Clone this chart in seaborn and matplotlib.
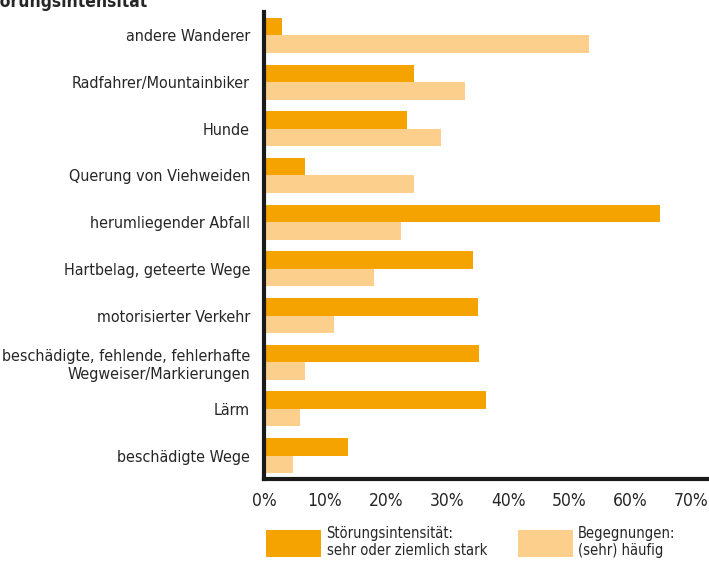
import matplotlib
matplotlib.use("Agg")
import matplotlib.pyplot as plt
from matplotlib import font_manager
from matplotlib.patches import Patch
import seaborn as sns
import pandas as pd

categories = [
    "andere Wanderer",
    "Radfahrer/Mountainbiker",
    "Hunde",
    "Querung von Viehweiden",
    "herumliegender Abfall",
    "Hartbelag, geteerte Wege",
    "motorisierter Verkehr",
    "beschädigte, fehlende, fehlerhafte\nWegweiser/Markierungen",
    "Lärm",
    "beschädigte Wege",
]
stoerung = [2.9, 24.6, 23.4, 6.8, 64.9, 34.2, 35.1, 35.2, 36.4, 13.8]
begegnung = [53.3, 33.0, 29.0, 24.6, 22.5, 18.1, 11.4, 6.8, 5.9, 4.8]
series_names = ["Störungsintensität:\nsehr oder ziemlich stark", "Begegnungen:\n(sehr) häufig"]
xticks = [0, 10, 20, 30, 40, 50, 60, 70]
xtick_labels = ["0%", "10%", "20%", "30%", "40%", "50%", "60%", "70%"]
title = "Störungsintensität"

colors = ["#F5A300", "#FCD08C"]

names = {f.name for f in font_manager.fontManager.ttflist}
if "Liberation Sans Narrow" in names:
    fam = "Liberation Sans Narrow"
    stretch = "normal"
else:
    fam = "DejaVu Sans"
    stretch = "condensed"

df = pd.DataFrame({
    "Kategorie": categories * 2,
    "Wert": stoerung + begegnung,
    "Serie": [series_names[0]] * len(categories) + [series_names[1]] * len(categories),
})

sns.set_style("white")
plt.rcParams["font.family"] = [fam, "DejaVu Sans"]

fig = plt.figure(figsize=(7.09, 5.66), dpi=100)
ax = fig.add_axes([264 / 709, 1 - 479 / 566, (707 - 264) / 709, (479 - 12) / 566])

sns.barplot(data=df, y="Kategorie", x="Wert", hue="Serie", orient="h",
            palette=colors, width=0.75, ax=ax, legend=False, saturation=1,
            linewidth=0, edgecolor="none")

ax.set_xlim(0, 72.6)
ax.set_ylim(9.5, -0.5)
ax.set_xticks(xticks)
ax.set_xticklabels(xtick_labels, fontsize=12.5, fontstretch=stretch)
ax.set_yticks(range(len(categories)))
ax.set_yticklabels(categories, fontsize=11.5, fontstretch=stretch, linespacing=1.25)
ax.tick_params(axis="both", length=0)
ax.tick_params(axis="y", pad=10)
ax.tick_params(axis="x", pad=9)
ax.set_xlabel("")
ax.set_ylabel("")
for s in ["top", "right"]:
    ax.spines[s].set_visible(False)
for s in ["left", "bottom"]:
    ax.spines[s].set_color("#1a1a1a")
    ax.spines[s].set_linewidth(3)

fig.text(148 / 709, 1 - 11 / 566, title, ha="right", va="bottom",
         fontsize=12.5, fontweight="bold", fontstretch=stretch)

handles = [Patch(facecolor=colors[0], edgecolor="none"),
           Patch(facecolor=colors[1], edgecolor="none")]
leg = fig.legend(handles, series_names, loc="lower left",
                 bbox_to_anchor=(258 / 709, 0.0), ncol=2, frameon=False,
                 handlelength=3.8, handleheight=2.5,
                 handletextpad=0.35, columnspacing=2.1, borderaxespad=0.15,
                 prop={"family": [fam, "DejaVu Sans"], "size": 10.5, "stretch": stretch})

fig.savefig("out.png", dpi=100)
